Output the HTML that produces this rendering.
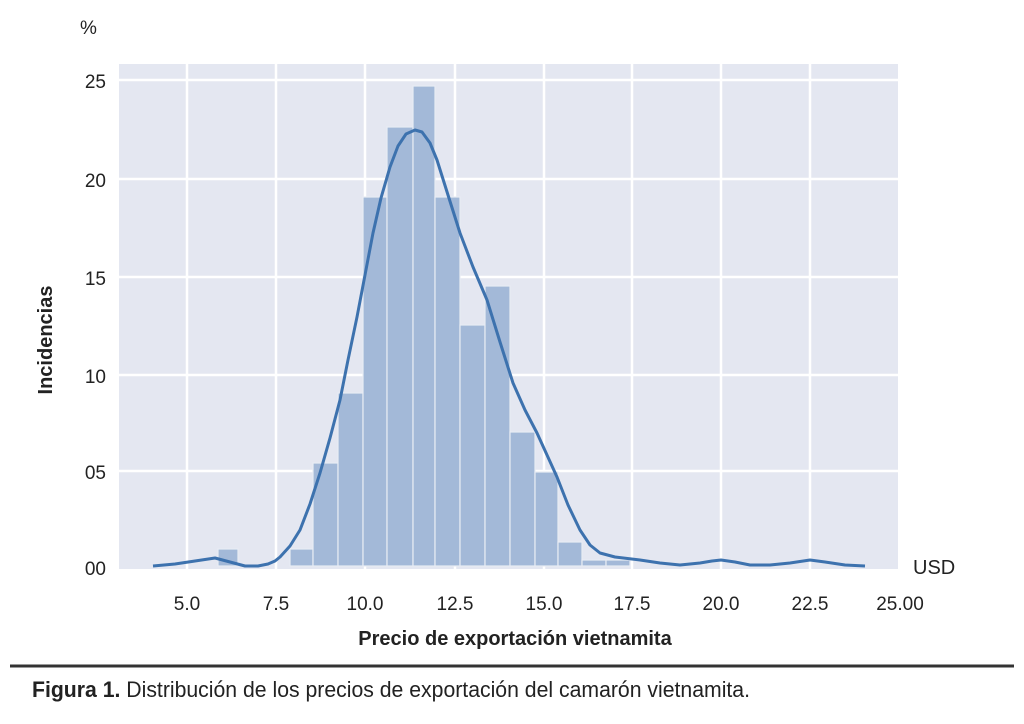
<!DOCTYPE html>
<html><head><meta charset="utf-8"><style>
body{margin:0;background:#fff;width:1024px;height:719px;overflow:hidden}
</style></head><body>
<svg width="1024" height="719" viewBox="0 0 1024 719" xmlns="http://www.w3.org/2000/svg" font-family="Liberation Sans, sans-serif">
<rect x="119" y="64" width="779" height="505" fill="#e4e7f1"/>
<g stroke="#fff" stroke-width="2.5">
<line x1="187" y1="64" x2="187" y2="569"/><line x1="276" y1="64" x2="276" y2="569"/>
<line x1="365" y1="64" x2="365" y2="569"/><line x1="455" y1="64" x2="455" y2="569"/>
<line x1="544" y1="64" x2="544" y2="569"/><line x1="632" y1="64" x2="632" y2="569"/>
<line x1="721" y1="64" x2="721" y2="569"/><line x1="810" y1="64" x2="810" y2="569"/>
<line x1="119" y1="80" x2="898" y2="80"/><line x1="119" y1="179" x2="898" y2="179"/>
<line x1="119" y1="277" x2="898" y2="277"/><line x1="119" y1="375" x2="898" y2="375"/>
<line x1="119" y1="471" x2="898" y2="471"/>
</g>
<g fill="#a3b9d8" stroke="#e8ecf4" stroke-width="1.2">
<rect x="218" y="549" width="20" height="17"/>
<rect x="290" y="549" width="23" height="17"/>
<rect x="313" y="463" width="25" height="103"/>
<rect x="338" y="393" width="25" height="173"/>
<rect x="363" y="197" width="24" height="369"/>
<rect x="387" y="127" width="26" height="439"/>
<rect x="413" y="86" width="22" height="480"/>
<rect x="435" y="197" width="25" height="369"/>
<rect x="460" y="325" width="25" height="241"/>
<rect x="485" y="286" width="25" height="280"/>
<rect x="510" y="432" width="25" height="134"/>
<rect x="535" y="472" width="23" height="94"/>
<rect x="558" y="542" width="24" height="24"/>
<rect x="582" y="560" width="24" height="6"/>
<rect x="606" y="560" width="24" height="6"/>
</g>
<polyline fill="none" stroke="#3d72ae" stroke-width="3" stroke-linejoin="round" points="153,566 175,564 195,561 215,558 230,562 245,566 258,566 268,564 275,561 280,557 290,546 300,530 310,504 320,473 330,438 340,400 348,360 357,317 365,275 373,233 381,198 390,167 398,146 406,134 415,130 422,132 430,143 437,160 448,195 460,233 473,267 487,300 500,342 513,383 525,410 537,433 547,455 557,477 568,505 580,530 590,545 600,553 615,557 640,560 660,563 680,565 700,563 712,561 721,560 735,562 750,565 770,565 790,563 810,560 825,562 845,565 865,566"/>
<g font-size="19" fill="#222" text-anchor="end">
<text x="106" y="88">25</text><text x="106" y="187">20</text><text x="106" y="285">15</text>
<text x="106" y="383">10</text><text x="106" y="479">05</text><text x="106" y="575">00</text>
</g>
<text x="80" y="34" font-size="19" fill="#222">%</text>
<g font-size="19" fill="#222" text-anchor="middle">
<text x="187" y="610">5.0</text><text x="276" y="610">7.5</text><text x="365" y="610">10.0</text>
<text x="455" y="610">12.5</text><text x="544" y="610">15.0</text><text x="632" y="610">17.5</text>
<text x="721" y="610">20.0</text><text x="810" y="610">22.5</text><text x="900" y="610">25.00</text>
</g>
<text x="913" y="574" font-size="20" fill="#222">USD</text>
<text x="515" y="645" font-size="20" font-weight="bold" fill="#222" text-anchor="middle">Precio de exportación vietnamita</text>
<text transform="translate(52,340) rotate(-90)" font-size="20" font-weight="bold" fill="#222" text-anchor="middle">Incidencias</text>
<line x1="10" y1="666" x2="1014" y2="666" stroke="#333" stroke-width="3"/>
<text x="32" y="697" font-size="22" fill="#222" font-family="Liberation Sans Narrow, Liberation Sans, sans-serif" textLength="718" lengthAdjust="spacingAndGlyphs"><tspan font-weight="bold">Figura 1.</tspan> Distribución de los precios de exportación del camarón vietnamita.</text>
</svg>
</body></html>
